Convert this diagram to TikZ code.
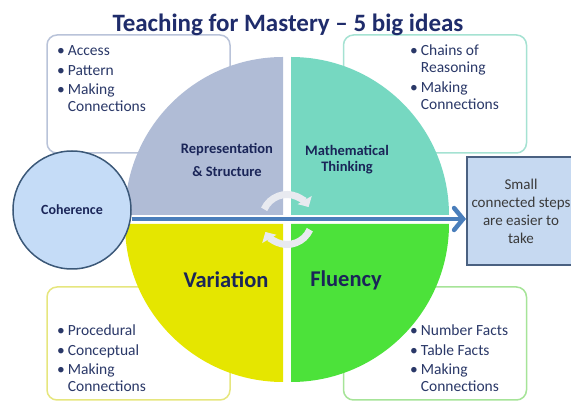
\documentclass[tikz,border=0pt]{standalone}
\usepackage{fontspec}
\setmainfont{Carlito}
\usetikzlibrary{arrows.meta}

\definecolor{titleblue}{HTML}{1F2C6B}
\definecolor{navy}{HTML}{1A2558}
\definecolor{itemtext}{HTML}{2A3868}
\definecolor{steptext}{HTML}{3A3A3A}
\definecolor{repfill}{HTML}{B0BCD6}
\definecolor{thinkfill}{HTML}{76D8C1}
\definecolor{varfill}{HTML}{E5E600}
\definecolor{flufill}{HTML}{4CE23A}
\definecolor{repline}{HTML}{B9C3D9}
\definecolor{thinkline}{HTML}{A5E2D2}
\definecolor{varline}{HTML}{E6E67E}
\definecolor{fluline}{HTML}{A6E498}
\definecolor{cohfill}{HTML}{C5DCF7}
\definecolor{cohline}{HTML}{3B5878}
\definecolor{stepfill}{HTML}{C6D9F1}
\definecolor{stepline}{HTML}{4A6181}
\definecolor{flowblue}{HTML}{4A7EBB}
\definecolor{turngrey}{HTML}{E8EAF0}

\tikzset{
  infobox/.style={line width=1.5pt, rounded corners=10pt, fill=white,
    minimum width=183pt, minimum height=118pt},
  bullets/.style={anchor=base west, inner sep=0pt, text=itemtext,
    font=\fontsize{15.5}{17}\selectfont},
  quadlabel/.style={text=navy, align=center,
    font=\bfseries\fontsize{14.5}{23}\selectfont},
  biglabel/.style={text=navy, font=\bfseries\fontsize{22.5}{26}\selectfont},
  turn/.style={draw=turngrey, line width=7pt,
    -{Triangle[length=8pt,width=16pt]}},
  flow/.style={draw=flowblue, line width=4.5pt,
    -{Straight Barb[length=9pt,width=22pt,line cap=round]}}
}

\newcommand{\itemlist}[1]{\begin{tabular}[t]{@{}l@{\hspace{3pt}}l@{}}#1\end{tabular}}

\begin{document}
\begin{tikzpicture}[x=1pt, y=1pt]
    \useasboundingbox (0, 0) rectangle (571, 401);

    % the four boxes behind the wheel
    \node[infobox, draw=repline] (repbox) at (138.5, 307) {};
    \node[infobox, draw=thinkline] (thinkbox) at (435, 307) {};
    \node[infobox, draw=varline, minimum height=113pt] (varbox) at (138.5, 57.5) {};
    \node[infobox, draw=fluline, minimum height=113pt] (flubox) at (435, 57.5) {};

    \node[bullets] (repitems) at (57, 345) {\itemlist{
        \textbullet & Access\\[2.5pt]
        \textbullet & Pattern\\[2.5pt]
        \textbullet & Making\\
        & Connections}};
    \node[bullets] (thinkitems) at (410, 345) {\itemlist{
        \textbullet & Chains of\\
        & Reasoning\\[2.5pt]
        \textbullet & Making\\
        & Connections}};
    \node[bullets] (varitems) at (57, 65) {\itemlist{
        \textbullet & Procedural\\[2.5pt]
        \textbullet & Conceptual\\[2.5pt]
        \textbullet & Making\\
        & Connections}};
    \node[bullets] (fluitems) at (410, 65) {\itemlist{
        \textbullet & Number Facts\\[2.5pt]
        \textbullet & Table Facts\\[2.5pt]
        \textbullet & Making\\
        & Connections}};

    % quarter pieces of the wheel
    \fill[repfill] (283, 186) -- (125, 186) arc[start angle=180, end angle=90, radius=158] -- cycle;
    \fill[thinkfill] (291, 186) -- (291, 344) arc[start angle=90, end angle=0, radius=158] -- cycle;
    \fill[varfill] (283, 177) -- (125, 177) arc[start angle=180, end angle=270, radius=158] -- cycle;
    \fill[flufill] (291, 177) -- (291, 19) arc[start angle=270, end angle=360, radius=158] -- cycle;

    \node[quadlabel] (rep) at (227, 241.5) {Representation\\\& Structure};
    \node[quadlabel, font=\bfseries\fontsize{14.5}{16}\selectfont] (think) at (347, 241) {Mathematical\\Thinking};
    \node[biglabel] (var) at (226, 121) {Variation};
    \node[biglabel] (flu) at (346, 121) {Fluency};

    % turning arrows in the middle
    \coordinate (hub) at (287, 181.5);
    \draw[turn] ([shift={(156:25)}]hub) arc[start angle=156, end angle=30, radius=25];
    \draw[turn] ([shift={(-24:25)}]hub) arc[start angle=-24, end angle=-150, radius=25];

    \node[circle, draw=cohline, fill=cohfill, line width=1.5pt, minimum size=118pt,
        text=navy, font=\bfseries\fontsize{14}{16}\selectfont] (coh) at (72, 191) {Coherence};
    \node[draw=stepline, fill=stepfill, line width=2pt, minimum width=108pt,
        minimum height=108pt, align=center, text=steptext,
        font=\fontsize{15}{18}\selectfont] (steps) at (521, 190)
        {Small\\connected steps\\are easier to\\take};

    \coordinate (axis) at (287, 182);
    \draw[flow] (coh.east |- axis) -- (steps.west |- axis);

    \node[anchor=base, text=titleblue, font=\bfseries\fontsize{25}{30}\selectfont] (title)
        at (288, 369) {Teaching for Mastery \textendash{} 5 big ideas};
\end{tikzpicture}
\end{document}
